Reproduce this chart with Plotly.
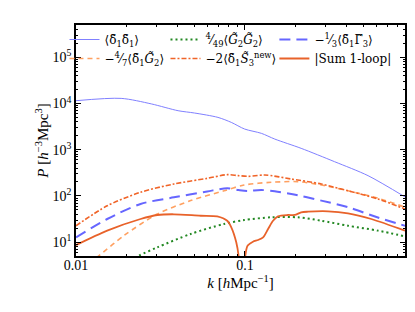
import plotly.graph_objects as go

# ---- data ----
k_lin = [0.01, 0.0185, 0.0279, 0.0402, 0.0503, 0.0692, 0.083, 0.0995, 0.125, 0.15, 0.215, 0.339, 0.535, 0.885]
p_lin = [11500, 12900, 9800, 6980, 6220, 5000, 3900, 2800, 2260, 1700, 1070, 550, 274, 95]

k_g2g2 = [0.021, 0.0236, 0.0303, 0.0477, 0.0752, 0.0987, 0.143, 0.206, 0.283, 0.407, 0.612, 0.885]
p_g2g2 = [4.0, 5.1, 7.7, 15, 24.7, 30, 34.4, 34.4, 29, 22.6, 17.7, 13.3]

k_g3 = [0.01, 0.0153, 0.0241, 0.038, 0.0598, 0.0785, 0.0915, 0.103, 0.125, 0.15, 0.188, 0.283, 0.407, 0.612, 0.885]
p_g3 = [12.7, 31.6, 67, 93, 125, 146, 134, 128, 134, 126, 110, 79, 57, 34, 22.6]

k_g2 = [0.012, 0.0137, 0.0192, 0.0303, 0.0477, 0.0752, 0.0987, 0.143, 0.206, 0.283, 0.407, 0.612, 0.885]
p_g2 = [3.5, 5.1, 13.8, 40.5, 79, 129, 172, 197, 203, 172, 129, 89, 57]

k_s3 = [0.01, 0.0153, 0.0241, 0.038, 0.0598, 0.0785, 0.091, 0.105, 0.131, 0.188, 0.283, 0.407, 0.612, 0.885]
p_s3 = [22.6, 61, 120, 181, 240, 288, 275, 265, 283, 232, 181, 129, 86, 52]

k_sum = [0.01, 0.0153, 0.0241, 0.0303, 0.038, 0.0546, 0.0685, 0.0785, 0.083, 0.0888, 0.0918, 0.094, 0.097, 0.0995,
         0.1004, 0.1038, 0.1115, 0.1194, 0.128, 0.137, 0.1466, 0.1568, 0.1795, 0.197, 0.215, 0.236, 0.31, 0.407, 0.559, 0.885]
p_sum = [8.6, 17.7, 31.6, 38.6, 40, 37.2, 36, 29, 20.9, 9.9, 4.8, 1.0, 3.0, 1.0,
         5.0, 8.4, 10.2, 11.1, 12.7, 19.2, 29, 36.1, 38.6, 38.6, 44, 45.5, 46.4, 42, 31.6, 17.7]

labels = [
    "⟨δ̃<sub>1</sub>δ̃<sub>1</sub>⟩",
    "<sup>4</sup>⁄<sub>49</sub>⟨<i>G̃</i><sub>2</sub><i>G̃</i><sub>2</sub>⟩",
    "−<sup>1</sup>⁄<sub>3</sub>⟨δ̃<sub>1</sub>Γ̃<sub>3</sub>⟩",
    "−<sup>4</sup>⁄<sub>7</sub>⟨δ̃<sub>1</sub><i>G̃</i><sub>2</sub>⟩",
    "−2⟨δ̃<sub>1</sub><i>S̃</i><sub>3</sub><sup>new</sup>⟩",
    "|Sum 1-loop|",
]

y_tickvals = [10, 100, 1000, 10000, 100000]
y_ticktext = ["10<sup>1</sup>", "10<sup>2</sup>", "10<sup>3</sup>", "10<sup>4</sup>", "10<sup>5</sup>"]
x_tickvals = [0.01, 0.1]
x_ticktext = ["0.01", "0.1"]

FONT = "Liberation Serif"
LEGFONT = "DejaVu Serif"

fig = go.Figure()
series = [
    (k_lin, p_lin, labels[0], dict(color="#8080ff", width=1), "legend"),
    (k_g2, p_g2, labels[3], dict(color="#ffa060", width=1.6, dash="5px,4px"), "legend"),
    (k_g2g2, p_g2g2, labels[1], dict(color="#228822", width=2, dash="2px,3px"), "legend2"),
    (k_s3, p_s3, labels[4], dict(color="#f06428", width=1.6, dash="5px,2px,2px,2px"), "legend2"),
    (k_g3, p_g3, labels[2], dict(color="#6666ff", width=2, dash="11px,6px"), "legend3"),
    (k_sum, p_sum, labels[5], dict(color="#e8622a", width=1.8), "legend3"),
]
for kx, py, name, line, lg in series:
    fig.add_trace(go.Scatter(x=kx, y=py, name=name, mode="lines",
                             line=dict(shape="spline", smoothing=0.8, **line),
                             legend=lg))

minor_x = [0.02, 0.03, 0.04, 0.05, 0.06, 0.07, 0.08, 0.09, 0.2, 0.3, 0.4, 0.5, 0.6, 0.7, 0.8]
minor_y = [m * 10 ** e for e in range(0, 6) for m in range(2, 10) if 5 <= m * 10 ** e <= 5e5]

axis_common = dict(showline=True, linecolor="black", linewidth=1.5, mirror="allticks",
                   ticks="inside", ticklen=5, tickwidth=1, tickcolor="black",
                   showgrid=False, zeroline=False, type="log",
                   tickfont=dict(family=FONT, size=14, color="black"))

fig.update_xaxes(range=[-2, -0.053], tickmode="array", tickvals=x_tickvals, ticktext=x_ticktext,
                 ticklabelstandoff=-5,
                 minor=dict(tickmode="array", tickvals=minor_x, ticks="inside", ticklen=2.5, tickcolor="black"),
                 title=dict(text="<i>k</i> [<i>h</i>Mpc<sup>−1</sup>]", font=dict(family=FONT, size=15, color="black"), standoff=5),
                 **axis_common)
fig.update_yaxes(range=[0.699, 5.699], tickmode="array", tickvals=y_tickvals, ticktext=y_ticktext,
                 minor=dict(tickmode="array", tickvals=minor_y, ticks="inside", ticklen=2.5, tickcolor="black"),
                 title=dict(text="<i>P</i> [<i>h</i><sup>−3</sup>Mpc<sup>3</sup>]", font=dict(family=FONT, size=15, color="black"), standoff=0),
                 **axis_common)

leg = dict(bgcolor="rgba(0,0,0,0)", borderwidth=0, yanchor="top", y=1.0, xanchor="left",
           font=dict(family=LEGFONT, size=12, color="black"), tracegroupgap=0, itemwidth=30)
fig.update_layout(
    width=415, height=312,
    margin=dict(l=68, r=18, t=17, b=64),
    paper_bgcolor="white", plot_bgcolor="white",
    showlegend=True,
    legend=dict(x=-0.035, **leg),
    legend2=dict(x=0.272, **leg),
    legend3=dict(x=0.603, **leg),
)

fig.write_html("out.html")
